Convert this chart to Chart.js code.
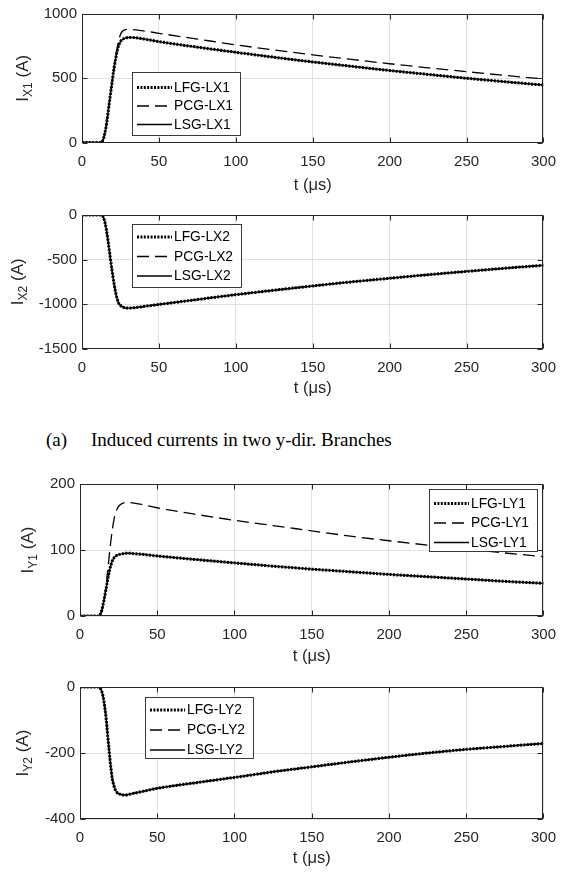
<!DOCTYPE html>
<html>
<head>
<meta charset="utf-8">
<script src="https://cdn.jsdelivr.net/npm/chart.js@4.4.1/dist/chart.umd.min.js"></script>
<style>
  html, body { margin:0; padding:0; background:#fff; }
  body { width:566px; height:872px; position:relative; overflow:hidden; }
  canvas { position:absolute; left:0; }
  .cap { position:absolute; top:430px; font-family:'Liberation Serif','Times New Roman',serif; font-size:19px; line-height:19px; color:#000; white-space:nowrap; }
</style>
</head>
<body>
<canvas id="c1" width="566" height="200" style="top:0px;width:566px;height:200px"></canvas>
<canvas id="c2" width="566" height="200" style="top:200px;width:566px;height:200px"></canvas>
<div class="cap" style="left:46px">(a)</div>
<div class="cap" style="left:91px">Induced currents in two y-dir. Branches</div>
<canvas id="c3" width="566" height="205" style="top:465px;width:566px;height:205px"></canvas>
<canvas id="c4" width="566" height="202" style="top:670px;width:566px;height:202px"></canvas>
<script>
// ---------------- data ----------------
const t = [0,5,10,12,13,14,15,16,17,18,19,20,21,22,23,24,25,26,28,30,32,35,40,50,75,100,125,150,175,200,225,250,275,300];

const LFG_LX1 = [0,0,0,0,5,30,80,150,240,330,420,510,590,660,720,760,785,800,812,817,818,815,806,785,742,702,663,627,593,560,530,500,473,447];
const PCG_LX1 = [0,0,0,0,5,30,80,150,240,330,420,510,595,675,745,800,840,862,877,881,880,877,869,850,805,760,720,682,647,613,581,551,522,495];
const LSG_LX1 = [0,0,0,0,5,30,80,150,240,330,420,510,590,660,720,760,785,800,812,817,818,815,806,785,742,702,663,627,593,560,530,500,473,447];

const LFG_LX2 = [0,0,0,0,-5,-30,-90,-180,-300,-430,-560,-680,-790,-880,-950,-995,-1015,-1030,-1043,-1046,-1045,-1040,-1028,-1005,-950,-895,-845,-797,-752,-711,-671,-634,-598,-565];
const PCG_LX2 = [0,0,0,0,-5,-30,-90,-180,-300,-430,-560,-680,-790,-880,-950,-995,-1015,-1030,-1043,-1046,-1045,-1040,-1028,-1005,-950,-895,-845,-797,-752,-711,-671,-634,-598,-565];
const LSG_LX2 = [0,0,0,0,-5,-30,-90,-180,-300,-430,-560,-680,-790,-880,-950,-995,-1015,-1030,-1043,-1046,-1045,-1040,-1028,-1005,-950,-895,-845,-797,-752,-711,-671,-634,-598,-565];

const LFG_LY1 = [0,0,0,0,2,8,18,30,43,56,68,77,84,88,90.5,92,93,93.5,94.5,95,95,94.5,93.5,91,85.5,80.5,75.5,71,67,63,59.5,56,52.5,49.5];
const PCG_LY1 = [0,0,0,0,2,7,16,30,48,70,93,114,132,146,156,162,166,168.5,171,172,172,171,169,164,154,145,137,129,121,114,107.5,101.5,95.5,90];
const LSG_LY1 = [0,0,0,0,2,8,18,30,43,56,68,77,84,88,90.5,92,93,93.5,94.5,95,95,94.5,93.5,91,85.5,80.5,75.5,71,67,63,59.5,56,52.5,49.5];

const LFG_LY2 = [0,0,0,0,-3,-12,-30,-60,-100,-150,-200,-245,-280,-300,-313,-320,-323,-325,-327,-327,-325,-322,-317,-307,-290,-274,-257,-242,-227,-213,-200,-189,-180,-171];
const PCG_LY2 = [0,0,0,0,-3,-12,-30,-60,-100,-150,-200,-245,-280,-300,-313,-320,-323,-325,-327,-327,-325,-322,-317,-307,-290,-274,-257,-242,-227,-213,-200,-189,-180,-171];
const LSG_LY2 = [0,0,0,0,-3,-12,-30,-60,-100,-150,-200,-245,-280,-300,-313,-320,-323,-325,-327,-327,-325,-322,-317,-307,-290,-274,-257,-242,-227,-213,-200,-189,-180,-171];

const xTicks = [0,50,100,150,200,250,300];
const yTicks1 = [0,500,1000];
const yTicks2 = [-1500,-1000,-500,0];
const yTicks3 = [0,100,200];
const yTicks4 = [-400,-200,0];

const xTitle = 't (\u03BCs)';

// ---------------- styling ----------------
Chart.defaults.font.family = "'Liberation Sans', Arial, Helvetica, sans-serif";
const AX = '#262626';
const GRID = '#e0e0e0';

const pts = arr => arr.map((v, i) => ({x: t[i], y: v}));

function mkDatasets(names, a, b, c) {
  return [
    {label: names[0], data: pts(a), borderColor:'#000', borderWidth:3, borderDash:[2,1.4], borderCapStyle:'butt'},
    {label: names[1], data: pts(b), borderColor:'#000', borderWidth:1.3, borderDash:[12,6]},
    {label: names[2], data: pts(c), borderColor:'#000', borderWidth:1.4}
  ];
}

const framePlugin = {
  id: 'frame',
  afterDatasetsDraw(chart, args, o) {
    const {ctx, chartArea: a, scales: {x, y}} = chart;
    ctx.save();
    // box and inward ticks
    ctx.strokeStyle = AX; ctx.lineWidth = 1;
    const L = Math.round(a.left) + 0.5, R = Math.round(a.right) - 0.5;
    const T = Math.round(a.top) + 0.5, B = Math.round(a.bottom) - 0.5;
    ctx.beginPath();
    x.ticks.forEach(tk => {
      const px = Math.round(x.getPixelForValue(tk.value)) + 0.5;
      ctx.moveTo(px, B); ctx.lineTo(px, B - 5);
      ctx.moveTo(px, T); ctx.lineTo(px, T + 5);
    });
    y.ticks.forEach(tk => {
      const py = Math.round(y.getPixelForValue(tk.value)) + 0.5;
      ctx.moveTo(L, py); ctx.lineTo(L + 5, py);
      ctx.moveTo(R, py); ctx.lineTo(R - 5, py);
    });
    ctx.stroke();
    ctx.strokeRect(L, T, R - L, B - T);

    // legend box
    const lg = o.legend;
    ctx.fillStyle = '#fff';
    ctx.fillRect(lg.left, lg.top, lg.width, lg.height);
    ctx.strokeStyle = AX; ctx.lineWidth = 0.9;
    ctx.strokeRect(lg.left + 0.5, lg.top + 0.5, lg.width, lg.height);
    ctx.font = "13.8px 'Liberation Sans', Arial, sans-serif";
    ctx.textBaseline = 'middle';
    ctx.textAlign = 'left';
    chart.data.datasets.forEach((ds, i) => {
      const yy = lg.top + lg.first + i * lg.step;
      ctx.save();
      ctx.strokeStyle = ds.borderColor;
      ctx.lineWidth = ds.borderWidth;
      ctx.setLineDash(ds.borderDash || []);
      ctx.lineCap = 'butt';
      ctx.beginPath();
      ctx.moveTo(lg.left + 5, yy + 0.5); ctx.lineTo(lg.left + 40, yy + 0.5);
      ctx.stroke();
      ctx.restore();
      ctx.fillStyle = '#000';
      ctx.fillText(ds.label, lg.left + 42, yy + 1);
    });

    // rotated y title with subscript
    const yt = o.ytitle;
    const cy = (a.top + a.bottom) / 2;
    ctx.translate(yt.x, cy);
    ctx.rotate(-Math.PI / 2);
    const fMain = "17px 'Liberation Sans', Arial, sans-serif";
    const fSub = "12px 'Liberation Sans', Arial, sans-serif";
    ctx.font = fMain; const w1 = ctx.measureText(yt.main).width;
    const w3 = ctx.measureText(yt.tail).width;
    ctx.font = fSub; const w2 = ctx.measureText(yt.sub).width;
    let sx = -(w1 + w2 + w3) / 2;
    ctx.fillStyle = AX;
    ctx.textBaseline = 'alphabetic';
    ctx.font = fMain; ctx.fillText(yt.main, sx, 0); sx += w1;
    ctx.font = fSub; ctx.fillText(yt.sub, sx, 4); sx += w2;
    ctx.font = fMain; ctx.fillText(yt.tail, sx, 0);
    ctx.restore();
  }
};

const plain = v => String(v);

function makeChart(id, cfg) {
  const H = cfg.slotH;
  const xH = cfg.titleOff + 9;           // x-scale height so title centre lands at titleOff below plot
  const padBottom = H - cfg.plotBottom - xH;
  return new Chart(document.getElementById(id), {
    type: 'line',
    data: { datasets: mkDatasets(cfg.names, cfg.a, cfg.b, cfg.c) },
    plugins: [framePlugin],
    options: {
      responsive: false,
      animation: false,
      events: [],
      layout: { autoPadding: false, padding: { left: 0, top: cfg.plotTop, right: 566 - cfg.plotRight, bottom: padBottom } },
      elements: { point: { radius: 0 }, line: { cubicInterpolationMode: 'monotone', fill: false } },
      plugins: {
        legend: { display: false },
        tooltip: { enabled: false },
        frame: { legend: cfg.legend, ytitle: cfg.ytitle }
      },
      scales: {
        x: {
          type: 'linear', min: 0, max: 300,
          afterBuildTicks: s => { s.ticks = xTicks.map(v => ({value: v})); },
          afterFit: s => { s.height = xH; },
          grid: { color: GRID, drawTicks: false, lineWidth: 1 },
          border: { display: false },
          ticks: { color: AX, font: { size: 15 }, padding: 10, maxRotation: 0, callback: plain },
          title: { display: true, text: xTitle, color: AX, font: { size: 16.5, lineHeight: 1.1 }, padding: 0 }
        },
        y: {
          type: 'linear', min: cfg.ymin, max: cfg.ymax,
          afterBuildTicks: s => { s.ticks = cfg.yt.map(v => ({value: v})); },
          afterFit: s => { s.width = cfg.plotLeft; },
          grid: { color: GRID, drawTicks: false, lineWidth: 1 },
          border: { display: false },
          ticks: { color: AX, font: { size: 15 }, padding: 5, callback: plain }
        }
      }
    }
  });
}

makeChart('c1', {
  slotH: 200, plotTop: 8, plotBottom: 142.5, plotLeft: 82, plotRight: 553, titleOff: 43.5,
  ymin: 0, ymax: 1000, yt: yTicks1,
  names: ['LFG-LX1','PCG-LX1','LSG-LX1'], a: LFG_LX1, b: PCG_LX1, c: LSG_LX1,
  legend: {left: 132, top: 72, width: 108, height: 63, first: 15, step: 18.5},
  ytitle: {main: 'I', sub: 'X1', tail: ' (A)', x: 28}
});
makeChart('c2', {
  slotH: 200, plotTop: 15, plotBottom: 148.5, plotLeft: 82, plotRight: 553, titleOff: 40.5,
  ymin: -1500, ymax: 0, yt: yTicks2,
  names: ['LFG-LX2','PCG-LX2','LSG-LX2'], a: LFG_LX2, b: PCG_LX2, c: LSG_LX2,
  legend: {left: 132, top: 24, width: 109, height: 63, first: 12.5, step: 19.5},
  ytitle: {main: 'I', sub: 'X2', tail: ' (A)', x: 23}
});
makeChart('c3', {
  slotH: 205, plotTop: 19, plotBottom: 151, plotLeft: 80, plotRight: 545, titleOff: 41,
  ymin: 0, ymax: 200, yt: yTicks3,
  names: ['LFG-LY1','PCG-LY1','LSG-LY1'], a: LFG_LY1, b: PCG_LY1, c: LSG_LY1,
  legend: {left: 429, top: 24, width: 108, height: 62, first: 14, step: 19.5},
  ytitle: {main: 'I', sub: 'Y1', tail: ' (A)', x: 33}
});
makeChart('c4', {
  slotH: 202, plotTop: 17, plotBottom: 149, plotLeft: 80, plotRight: 545, titleOff: 40,
  ymin: -400, ymax: 0, yt: yTicks4,
  names: ['LFG-LY2','PCG-LY2','LSG-LY2'], a: LFG_LY2, b: PCG_LY2, c: LSG_LY2,
  legend: {left: 145, top: 27, width: 108, height: 61, first: 12.5, step: 20},
  ytitle: {main: 'I', sub: 'Y2', tail: ' (A)', x: 28}
});
</script>
</body>
</html>
